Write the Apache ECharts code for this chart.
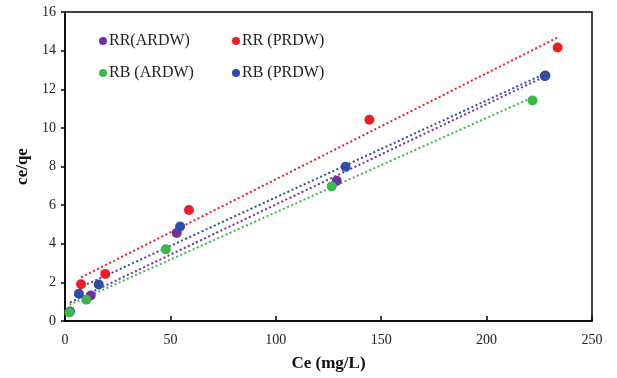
<!DOCTYPE html>
<html>
<head>
<meta charset="utf-8">
<script src="https://cdn.jsdelivr.net/npm/echarts@6/dist/echarts.min.js"></script>
<style>
  html, body { margin: 0; padding: 0; background: #fff; }
  #chart { width: 617px; height: 378px; }
</style>
</head>
<body>
<div id="chart"></div>
<script>
// scatter points: [Ce, ce/qe]
var rrArdw = [[2.4, 0.49], [12.2, 1.32], [53.0, 4.56], [128.9, 7.26], [227.6, 12.68]];
var rrPrdw = [[7.6, 1.90], [19.1, 2.44], [58.8, 5.75], [144.4, 10.42], [233.7, 14.16]];
var rbArdw = [[2.1, 0.44], [10.1, 1.10], [47.8, 3.71], [126.5, 6.97], [221.8, 11.42]];
var rbPrdw = [[6.6, 1.41], [16.0, 1.89], [54.6, 4.89], [133.1, 7.99], [227.9, 12.71]];

// dotted trend lines, endpoints
var rrArdwTrend = [[2.4, 0.96], [227.6, 12.66]];
var rrPrdwTrend = [[7.6, 2.26], [233.7, 14.68]];
var rbArdwTrend = [[2.1, 0.84], [221.8, 11.58]];
var rbPrdwTrend = [[6.6, 1.71], [227.9, 12.82]];

var names = ['RR(ARDW)', 'RR (PRDW)', 'RB (ARDW)', 'RB (PRDW)'];
var colors = ['#7030A0', '#EE1C25', '#3DB94A', '#2E4DA7'];

var serif = '"Liberation Serif", "Times New Roman", serif';

function trend(data, color) {
    return {
        type: 'line',
        data: data,
        symbol: 'none',
        silent: true,
        z: 1,
        lineStyle: { color: color, width: 2, type: [2, 2.5] }
    };
}

function points(name, data, color) {
    return {
        name: name,
        type: 'scatter',
        data: data,
        symbol: 'circle',
        symbolSize: 10,
        z: 3,
        itemStyle: { color: color, opacity: 1 }
    };
}

function legendAt(name, left, top) {
    return {
        data: [name],
        left: left,
        top: top,
        itemWidth: 8,
        itemHeight: 8,
        itemGap: 0,
        icon: 'circle',
        padding: 0,
        textStyle: { fontFamily: serif, fontSize: 16, color: '#222', padding: [0, 0, 0, -3] }
    };
}

var chart = echarts.init(document.getElementById('chart'));
var option = {
    animation: false,
    backgroundColor: '#fff',
    color: colors,
    legend: [
        legendAt(names[0], 99, 33),
        legendAt(names[1], 232, 33),
        legendAt(names[2], 99, 65),
        legendAt(names[3], 232, 65)
    ],
    grid: {
        left: 65,
        right: 25,
        top: 12,
        bottom: 57,
        show: true,
        borderColor: '#000',
        borderWidth: 1.5
    },
    xAxis: {
        type: 'value',
        min: 0,
        max: 250,
        interval: 50,
        name: 'Ce (mg/L)',
        nameLocation: 'middle',
        nameGap: 34,
        nameTextStyle: { fontFamily: serif, fontSize: 17, fontWeight: 'bold', color: '#111' },
        axisLine: { show: true, lineStyle: { color: '#000', width: 1.5 } },
        axisTick: { show: true, inside: true, length: 5, lineStyle: { color: '#000', width: 1.5 } },
        axisLabel: { fontFamily: serif, fontSize: 14, color: '#222', margin: 12 },
        splitLine: { show: false }
    },
    yAxis: {
        type: 'value',
        min: 0,
        max: 16,
        interval: 2,
        name: 'ce/qe',
        nameLocation: 'middle',
        nameGap: 30,
        nameRotate: 90,
        nameTextStyle: { fontFamily: serif, fontSize: 17, fontWeight: 'bold', color: '#111' },
        axisLine: { show: true, lineStyle: { color: '#000', width: 1.5 } },
        axisTick: { show: true, inside: false, length: 4, lineStyle: { color: '#000', width: 1.5 } },
        axisLabel: { fontFamily: serif, fontSize: 14, color: '#222', margin: 9 },
        splitLine: { show: false }
    },
    series: [
        trend(rrPrdwTrend, colors[1]),
        trend(rbPrdwTrend, colors[3]),
        trend(rrArdwTrend, colors[0]),
        trend(rbArdwTrend, colors[2]),
        points(names[0], rrArdw, colors[0]),
        points(names[1], rrPrdw, colors[1]),
        points(names[2], rbArdw, colors[2]),
        points(names[3], rbPrdw, colors[3])
    ]
};
chart.setOption(option);
</script>
</body>
</html>
